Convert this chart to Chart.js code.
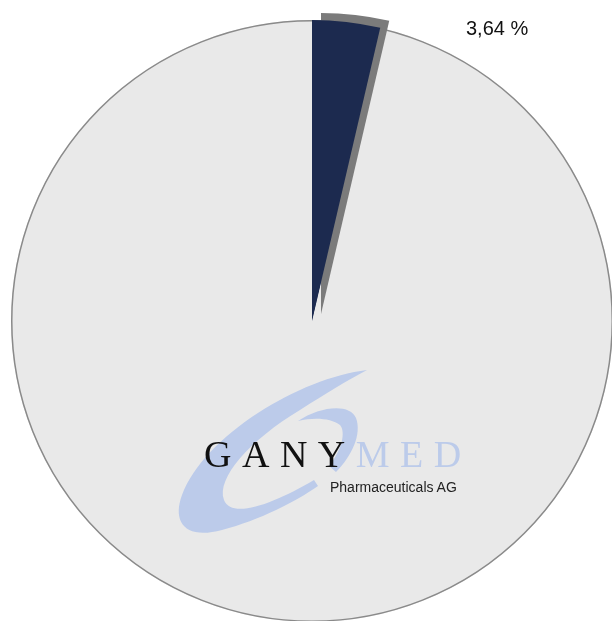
<!DOCTYPE html>
<html lang="de">
<head>
    <meta charset="utf-8">
    <title>Anteil</title>
    <script src="https://cdn.jsdelivr.net/npm/chart.js@4.4.1/dist/chart.umd.min.js"></script>
    <style>
        html, body {
            margin: 0;
            padding: 0;
            width: 612px;
            height: 621px;
            overflow: hidden;
            background: #fff;
        }

        .chartBox {
            position: absolute;
            left: 0;
            top: 0;
            width: 624px;
            height: 642px;
        }

        /* logo on top of the pie */
        .logo {
            position: absolute;
            left: 0;
            top: 0;
            width: 612px;
            height: 621px;
            pointer-events: none;
        }

        .logoName {
            position: absolute;
            left: 204px;
            top: 432px;
            font-family: "Liberation Serif", "DejaVu Serif", serif;
            font-size: 38px;
            letter-spacing: 10.5px;
            line-height: 44px;
            white-space: nowrap;
            color: #111;
        }

        .logoName .med {
            color: #bccbea;
        }

        .logoSub {
            position: absolute;
            left: 330px;
            top: 479px;
            font-family: "Liberation Sans", Arial, sans-serif;
            font-size: 14px;
            color: #222;
            white-space: nowrap;
        }
    </style>
</head>
<body>

    <div class="chartBox">
        <canvas id="pieChart"></canvas>
    </div>

    <div class="logo">
        <svg width="612" height="621" style="position:absolute;left:0;top:0">
            <!-- swoosh -->
            <path fill="#bccbea" d="M367,370 C300,378 205,435 182,495 C172,522 185,540 222,530 C260,520 295,502 318,486 L314,480 C275,503 232,520 224,500 C216,478 250,440 300,410 C325,394 348,380 367,370 Z" />
            <path fill="#bccbea" d="M298,421 C320,406 350,403 356,418 C362,434 352,456 336,472 L329,466 C342,450 346,432 340,425 C331,418 314,417 298,421 Z" />
        </svg>
        <div class="logoName">GANY<span class="med">MED</span></div>
        <div class="logoSub">Pharmaceuticals AG</div>
    </div>

    <script>
        // Werte aus der Grafik
        var labels = ["Anteil", "Rest"];
        var values = [3.64, 96.36];
        var colors = ["#1c2a4f", "#e9e9e9"];
        var pctLabels = ["3,64 %"];

        // draws outline, shadow of the small slice and the percentage label
        var slicePlugin = {
            id: 'slicePlugin',
            afterDatasetsDraw: function (chart) {
                var ctx = chart.ctx;
                var meta = chart.getDatasetMeta(0);
                var big = meta.data[1];
                var small = meta.data[0];

                ctx.save();
                ctx.beginPath();
                ctx.arc(big.x, big.y, big.outerRadius - 0.75, 0, Math.PI * 2);
                ctx.strokeStyle = '#8a8a8a';
                ctx.lineWidth = 1.5;
                ctx.stroke();

                // shadow behind the small slice
                ctx.translate(9, -7);
                ctx.beginPath();
                ctx.moveTo(small.x, small.y);
                ctx.arc(small.x, small.y, small.outerRadius, small.startAngle, small.endAngle);
                ctx.closePath();
                ctx.fillStyle = '#7b7b7b';
                ctx.fill();
                ctx.restore();

                small.draw(ctx);

                // label
                ctx.save();
                ctx.font = '20px "Liberation Sans", Arial, sans-serif';
                ctx.fillStyle = '#111';
                ctx.textBaseline = 'alphabetic';
                ctx.fillText(pctLabels[0], chart.chartArea.left + 455, chart.chartArea.top + 15);
                ctx.restore();
            }
        };

        var ctx = document.getElementById("pieChart").getContext('2d');
        var myPie = new Chart(ctx, {
            type: 'pie',
            data: {
                labels: labels,
                datasets: [{
                    data: values,
                    backgroundColor: colors,
                    borderWidth: 0
                }]
            },
            options: {
                responsive: true,
                maintainAspectRatio: false,
                devicePixelRatio: 1,
                animation: false,
                layout: {
                    padding: { left: 11, right: 11, top: 20, bottom: 20 }
                },
                plugins: {
                    legend: { display: false },
                    tooltip: { enabled: false }
                }
            },
            plugins: [slicePlugin]
        });
    </script>

</body>
</html>
